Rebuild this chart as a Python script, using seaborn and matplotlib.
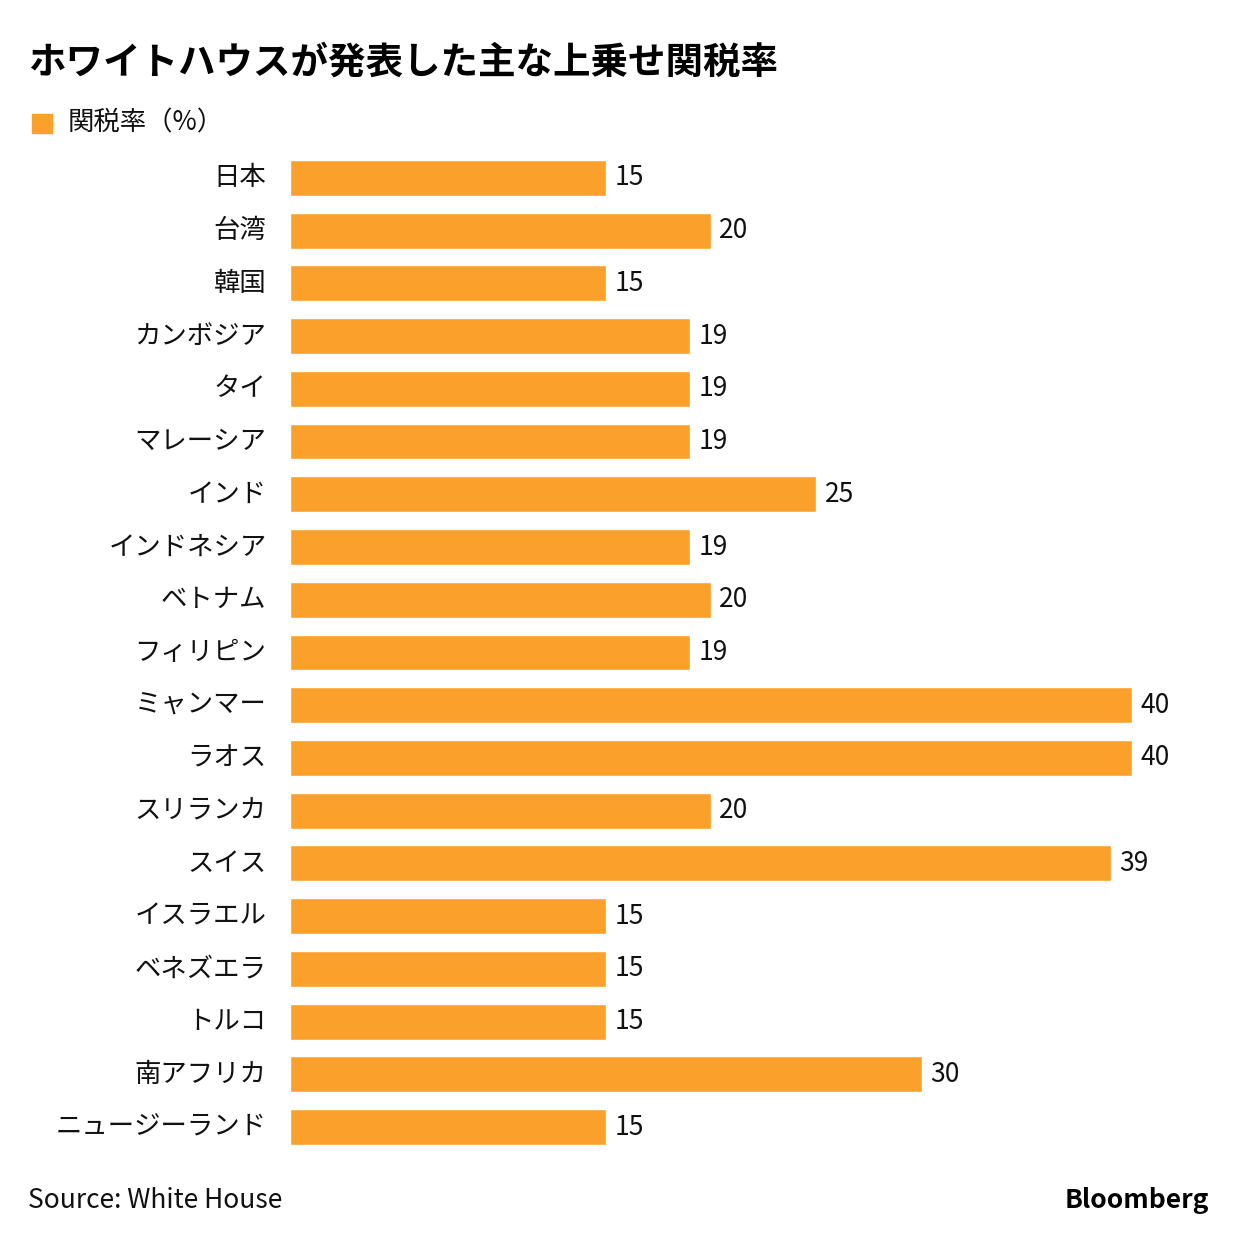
import matplotlib
matplotlib.use("Agg")
import matplotlib.pyplot as plt
import matplotlib.transforms as mtransforms
import seaborn as sns
import pandas as pd

countries = ["日本", "台湾", "韓国", "カンボジア", "タイ", "マレーシア", "インド",
             "インドネシア", "ベトナム", "フィリピン", "ミャンマー", "ラオス",
             "スリランカ", "スイス", "イスラエル", "ベネズエラ", "トルコ",
             "南アフリカ", "ニュージーランド"]
rates = [15, 20, 15, 19, 19, 19, 25, 19, 20, 19, 40, 40, 20, 39, 15, 15, 15, 30, 15]

bar_color = "#FBA02B"

sns.set_theme(style="white")
plt.rcParams['font.family'] = ['Noto Sans CJK JP', 'DejaVu Sans']

df = pd.DataFrame({"country": countries, "rate": rates})

fig = plt.figure(figsize=(12.38, 12.42), dpi=100)
ax = fig.add_axes([0.2343, 0.0713, 0.9144 - 0.2343, 0.878 - 0.0713])

sns.barplot(data=df, x="rate", y="country", orient="h", color=bar_color,
            saturation=1, width=0.68, ax=ax)

ax.set_xlim(0, 40)
ax.set_ylim(len(countries) - 0.5, -0.5)
for c in ax.containers:
    ax.bar_label(c, padding=6, fontsize=19, color="#111111", clip_on=False)

ax.set_xlabel("")
ax.set_ylabel("")
ax.set_xticks([])
ax.tick_params(axis="y", length=0, pad=17, labelsize=19, labelcolor="#111111")
# country names sit a touch above bar centre in the original
shift = mtransforms.ScaledTranslation(0, 3 / 100, fig.dpi_scale_trans)
for lab in ax.get_yticklabels():
    lab.set_transform(lab.get_transform() + shift)
for s in ax.spines.values():
    s.set_visible(False)

fig.text(28 / 1238, 1 - 62 / 1242, "ホワイトハウスが発表した主な上乗せ関税率",
         fontsize=27, fontweight="bold", va="center", ha="left", color="#000000")

fig.patches.append(plt.Rectangle((32 / 1238, 1 - 133 / 1242), 20 / 1238, 19 / 1242,
                                 transform=fig.transFigure, color=bar_color))
fig.text(68 / 1238, 1 - 123 / 1242, "関税率（%）", fontsize=19,
         va="center", ha="left", color="#111111")

fig.text(28 / 1238, 1 - 1200 / 1242, "Source: White House", fontsize=19,
         va="center", ha="left", color="#111111")
fig.text(1209 / 1238, 1 - 1200 / 1242, "Bloomberg", fontsize=19, fontweight="bold",
         va="center", ha="right", color="#000000")

fig.savefig("out.png", dpi=100)
